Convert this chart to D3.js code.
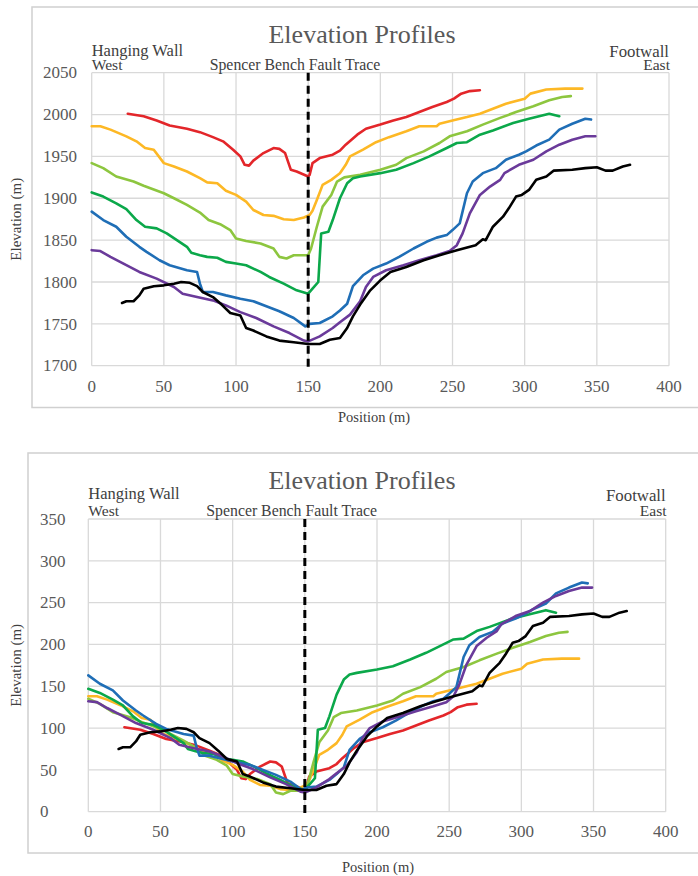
<!DOCTYPE html>
<html>
<head>
<meta charset="utf-8">
<title>Elevation Profiles</title>
<script src="https://cdn.jsdelivr.net/npm/d3@7"></script>
<style>
  body { margin: 0; background: #ffffff; }
  svg text { font-family: "Liberation Serif", "Times New Roman", serif; }
</style>
</head>
<body>
<script>
// profile data: [position (m), elevation (m)]
var red = [[25,2001],[36,1998],[45,1993],[54,1987],[66,1983],[75,1979],[84,1973],[91,1968],[98,1958],[103,1950],[106,1940],[109,1939],[112,1945],[119,1954],[126,1960],[130,1959],[134,1954],[138,1934],[142,1932],[150,1926],[151,1928],[153,1942],[158,1948],[167,1952],[172,1957],[176,1964],[180,1970],[184,1976],[190,1983],[200,1988],[209,1993],[218,1997],[227,2003],[236,2009],[246,2015],[251,2019],[256,2025],[262,2028],[269,2029]];
var yellow = [[0,1986],[6,1986],[13,1982],[24,1974],[31,1968],[37,1960],[43,1958],[50,1942],[57,1938],[66,1932],[75,1924],[80,1919],[87,1918],[93,1909],[100,1904],[107,1896],[112,1886],[119,1880],[126,1879],[133,1875],[140,1874],[147,1877],[151,1880],[153,1885],[156,1898],[160,1916],[166,1922],[172,1930],[176,1940],[179,1950],[188,1958],[197,1967],[206,1973],[218,1980],[227,1986],[239,1986],[241,1989],[250,1993],[260,1997],[269,2001],[278,2007],[287,2013],[300,2019],[304,2025],[315,2030],[328,2031],[340,2031]];
var lightGreen = [[0,1942],[8,1936],[17,1926],[29,1920],[36,1915],[50,1906],[57,1900],[66,1892],[75,1883],[81,1874],[89,1869],[96,1862],[100,1852],[107,1849],[117,1846],[126,1840],[130,1830],[135,1828],[140,1832],[150,1832],[152,1840],[156,1866],[160,1890],[166,1904],[170,1920],[175,1925],[186,1928],[200,1934],[211,1940],[218,1948],[230,1956],[241,1966],[248,1974],[260,1980],[271,1988],[283,1996],[294,2003],[306,2010],[317,2017],[326,2021],[332,2022]];
var green = [[0,1907],[8,1902],[17,1894],[24,1887],[31,1874],[37,1866],[45,1864],[52,1858],[59,1850],[66,1842],[69,1835],[75,1832],[80,1830],[87,1829],[93,1824],[100,1822],[107,1820],[117,1812],[123,1806],[133,1798],[142,1790],[150,1786],[153,1792],[157,1800],[159,1858],[164,1860],[167,1874],[172,1900],[177,1918],[181,1924],[186,1926],[200,1930],[211,1934],[223,1942],[234,1950],[246,1960],[253,1966],[260,1967],[269,1976],[278,1981],[292,1990],[303,1995],[310,1998],[317,2001],[324,1998]];
var blue = [[0,1884],[8,1874],[17,1866],[24,1854],[33,1842],[38,1836],[47,1826],[54,1820],[66,1814],[73,1812],[75,1798],[77,1788],[84,1788],[93,1784],[103,1780],[112,1777],[121,1771],[130,1765],[140,1757],[148,1747],[151,1750],[158,1751],[167,1759],[172,1766],[177,1774],[181,1795],[188,1808],[195,1816],[204,1822],[213,1830],[223,1840],[232,1848],[239,1853],[246,1856],[250,1862],[255,1870],[260,1906],[264,1920],[271,1930],[280,1936],[287,1946],[296,1952],[301,1956],[308,1963],[317,1970],[324,1982],[333,1989],[342,1995],[346,1994]];
var purple = [[0,1838],[6,1837],[13,1830],[22,1822],[33,1812],[45,1804],[57,1794],[63,1786],[73,1782],[84,1778],[93,1772],[103,1764],[114,1757],[126,1747],[137,1739],[147,1730],[150,1729],[158,1735],[167,1745],[172,1752],[179,1761],[186,1777],[190,1794],[195,1806],[204,1814],[216,1820],[227,1826],[239,1832],[248,1837],[253,1844],[257,1858],[262,1882],[269,1904],[276,1914],[283,1922],[286,1930],[296,1940],[306,1946],[315,1956],[324,1964],[333,1970],[342,1974],[349,1974]];
var black = [[21,1775],[24,1777],[29,1777],[33,1784],[36,1792],[43,1795],[50,1796],[57,1798],[62,1800],[68,1799],[73,1795],[77,1788],[84,1782],[90,1773],[96,1763],[103,1760],[107,1745],[112,1742],[121,1735],[130,1730],[140,1728],[150,1726],[158,1726],[165,1731],[172,1733],[177,1745],[181,1759],[186,1773],[193,1790],[200,1802],[207,1812],[218,1818],[230,1826],[241,1832],[253,1838],[266,1844],[271,1851],[273,1850],[278,1866],[285,1878],[289,1888],[294,1902],[298,1904],[303,1910],[308,1922],[315,1926],[320,1933],[333,1934],[342,1936],[350,1937],[356,1933],[361,1933],[368,1938],[373,1940]];

var profiles = [red, yellow, lightGreen, green, blue, purple, black];
var colors = ["#e3262a", "#fdb825", "#8dc63f", "#0ba84a", "#1f6eb6", "#6a3a9a", "#000000"];
// base elevation subtracted for the lower (relative) chart
var baseElevation = [1900, 1848, 1807, 1760, 1721, 1706, 1700];

var xTicks = [0, 50, 100, 150, 200, 250, 300, 350, 400];
var yTicksAbs = [1700, 1750, 1800, 1850, 1900, 1950, 2000, 2050];
var yTicksRel = [0, 50, 100, 150, 200, 250, 300, 350];
var faultPosition = 150;

var W = 698, H = 876;
var svg = d3.select("body").append("svg").attr("width", W).attr("height", H);

var panels = [
  { box: [32, 7, 720, 407.5], left: 91.7, right: 669, top: 72.7, bottom: 365.7,
    domain: [1700, 2050], ticks: yTicksAbs, labelX: 43, relative: false,
    titleY: 43, hwY: 55.5, westY: 69.5, fwY: 56.5, eastY: 69.5, xLabY: 392, posY: 422, posX: 374, elevX: 21 },
  { box: [28, 453, 720, 853], left: 88.3, right: 665.7, top: 519, bottom: 811.7,
    domain: [0, 350], ticks: yTicksRel, labelX: 40, relative: true,
    titleY: 489, hwY: 498.5, westY: 516, fwY: 501, eastY: 515.5, xLabY: 837, posY: 872, posX: 378, elevX: 21 }
];

panels.forEach(function(p) {
  var g = svg.append("g");

  // outer frame
  g.append("rect")
    .attr("x", p.box[0]).attr("y", p.box[1])
    .attr("width", p.box[2] - p.box[0]).attr("height", p.box[3] - p.box[1])
    .attr("fill", "none").attr("stroke", "#d0d0d0").attr("stroke-width", 1.5);

  var x = d3.scaleLinear().domain([0, 400]).range([p.left, p.right]);
  var y = d3.scaleLinear().domain(p.domain).range([p.bottom, p.top]);

  // grid
  g.selectAll(".gx").data(xTicks).enter().append("line")
    .attr("x1", function(d) { return x(d); }).attr("x2", function(d) { return x(d); })
    .attr("y1", p.top).attr("y2", p.bottom)
    .attr("stroke", "#d9d9d9").attr("stroke-width", 1.3);
  g.selectAll(".gy").data(p.ticks).enter().append("line")
    .attr("x1", p.left).attr("x2", p.right)
    .attr("y1", function(d) { return y(d); }).attr("y2", function(d) { return y(d); })
    .attr("stroke", "#d9d9d9").attr("stroke-width", 1.3);

  // tick labels
  g.selectAll(".yl").data(p.ticks).enter().append("text")
    .attr("x", p.labelX).attr("y", function(d) { return y(d); })
    .attr("dy", "0.34em")
    .attr("fill", "#595959").style("font-size", "17px")
    .text(function(d) { return d; });
  g.selectAll(".xl").data(xTicks).enter().append("text")
    .attr("x", function(d) { return x(d); }).attr("y", p.xLabY)
    .attr("text-anchor", "middle")
    .attr("fill", "#595959").style("font-size", "17px")
    .text(function(d) { return d; });

  // profiles
  var line = d3.line()
    .x(function(d) { return x(d[0]); })
    .y(function(d) { return y(d[1]); });

  profiles.forEach(function(prof, i) {
    var pts = p.relative
      ? prof.map(function(d) { return [d[0], d[1] - baseElevation[i]]; })
      : prof;
    g.append("path")
      .datum(pts)
      .attr("d", line)
      .attr("fill", "none")
      .attr("stroke", colors[i])
      .attr("stroke-width", 2.6)
      .attr("stroke-linejoin", "round")
      .attr("stroke-linecap", "round");
  });

  // fault trace
  g.append("line")
    .attr("x1", x(faultPosition)).attr("x2", x(faultPosition))
    .attr("y1", p.top).attr("y2", p.bottom + 2)
    .attr("stroke", "#000").attr("stroke-width", 3)
    .attr("stroke-dasharray", "8,5");

  // texts
  g.append("text").attr("x", 362).attr("y", p.titleY)
    .attr("text-anchor", "middle").attr("fill", "#595959")
    .style("font-size", "26px").text("Elevation Profiles");
  g.append("text").attr("x", p.left).attr("y", p.hwY)
    .attr("fill", "#404040").style("font-size", "16.5px").text("Hanging Wall");
  g.append("text").attr("x", p.left).attr("y", p.westY)
    .attr("fill", "#404040").style("font-size", "15.6px").text("West");
  g.append("text").attr("x", x(0) + 118).attr("y", p.westY)
    .attr("fill", "#404040").style("font-size", "15.8px").text("Spencer Bench Fault Trace");
  g.append("text").attr("x", p.right).attr("y", p.fwY)
    .attr("text-anchor", "end")
    .attr("fill", "#404040").style("font-size", "16.8px").text("Footwall");
  g.append("text").attr("x", p.right + 1).attr("y", p.eastY)
    .attr("text-anchor", "end")
    .attr("fill", "#404040").style("font-size", "15.6px").text("East");
  g.append("text").attr("x", p.posX).attr("y", p.posY)
    .attr("text-anchor", "middle").attr("fill", "#404040")
    .style("font-size", "14.5px").text("Position (m)");
  g.append("text")
    .attr("transform", "translate(" + p.elevX + "," + ((p.top + p.bottom) / 2) + ") rotate(-90)")
    .attr("text-anchor", "middle").attr("fill", "#404040")
    .style("font-size", "15px").text("Elevation (m)");
});
</script>
</body>
</html>
